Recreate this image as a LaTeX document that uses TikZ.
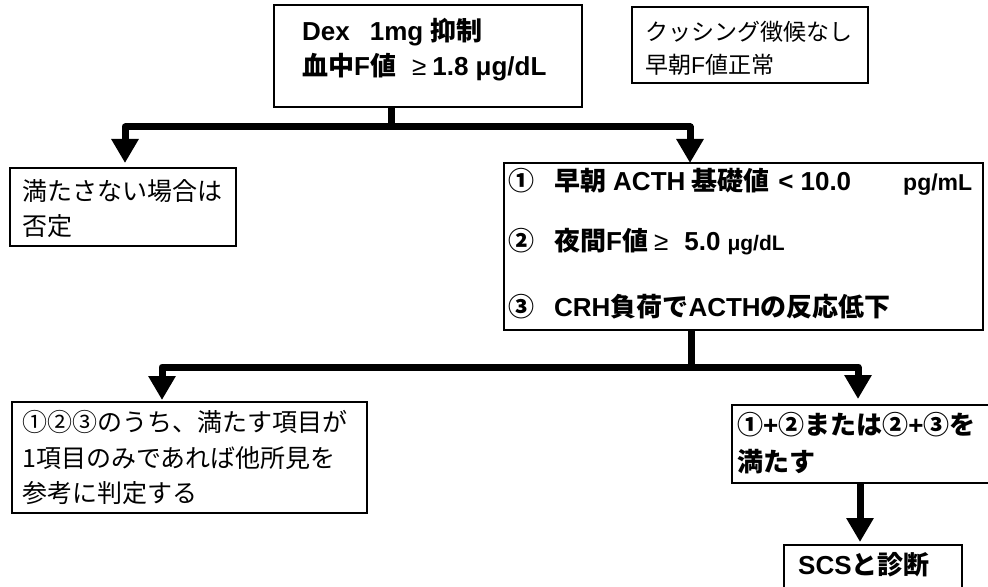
\documentclass[tikz,border=0pt]{standalone}
\usepackage{fontspec}
\setmainfont{Liberation Sans}
\newfontfamily\jp{Noto Sans CJK JP}
\usetikzlibrary{arrows.meta,calc}
\newcommand\J[1]{{\jp #1}}
\newcommand\sm[1]{{\fontsize{23bp}{23bp}\selectfont #1}}
\newcommand\smb[1]{{\fontsize{21bp}{21bp}\selectfont #1}}
\begin{document}
\begin{tikzpicture}[x=1bp,y=-1bp,
  box/.style={draw=black,line width=1.3bp,inner sep=0,outer sep=0,anchor=north west},
  rtxt/.style={anchor=base west,inner sep=0,font=\fontsize{25bp}{30bp}\selectfont},
  ttxt/.style={anchor=base west,inner sep=0,font=\fontsize{23bp}{28bp}\selectfont},
  btxt/.style={anchor=base west,inner sep=0,font=\fontsize{26bp}{30bp}\selectfont\bfseries},
  stem/.style={line width=7bp,line join=round},
  conn/.style={line width=7bp,line join=round,-{Triangle[width=26bp,length=24bp]}}]
\useasboundingbox (0,0) rectangle (988,587);
\clip (0,0) rectangle (988,587);
% boxes
\node[box,minimum width=308bp,minimum height=102bp] (top) at (274,5) {};
\node[box,minimum width=236bp,minimum height=76bp] (tr) at (632,7) {};
\node[box,minimum width=226bp,minimum height=78bp] (left) at (10,168) {};
\node[box,minimum width=479bp,minimum height=167bp] (right) at (504,163) {};
\node[box,minimum width=355bp,minimum height=111bp] (bl) at (12,402) {};
\node[box,minimum width=262bp,minimum height=78bp] (br) at (732,405) {};
\node[box,minimum width=178bp,minimum height=60bp] (scs) at (784,545) {};
% texts
\node[btxt] (t1) at (302,41) {Dex\hspace{20bp}1mg\hspace{7bp}\J{抑制}};
\node[btxt] (t2) at (302,76) {\J{血中}F\J{値}\hspace{16bp}{\mdseries ≥}\hspace{6bp}1.8 μg/dL};
\node[ttxt] (tr1) at (645,41) {\J{クッシング徴候なし}};
\node[ttxt] (tr2) at (645,74) {\J{早朝}F\J{値正常}};
\node[rtxt] (l1) at (22,201) {\J{満たさない場合は}};
\node[rtxt] (l2) at (22,236) {\J{否定}};
\node[btxt] (r1) at (508,191) {\J{①}\hspace{20bp}\J{早朝}\hspace{7bp}ACTH\hspace{6bp}\J{基礎値}\hspace{9bp}<\hspace{7bp}10.0\hspace{52bp}\sm{pg/mL}};
\node[btxt] (r2) at (508,251) {\J{②}\hspace{20bp}\J{夜間}F\J{値}\hspace{6bp}{\mdseries ≥}\hspace{16bp}5.0\hspace{7bp}\smb{μg/dL}};
\node[btxt] (r3) at (508,316) {\J{③}\hspace{20bp}CRH\J{負荷で}ACTH\J{の反応低下}};
\node[rtxt] (b1) at (22,431) {\J{①②③のうち、満たす項目が}};
\node[rtxt] (b2) at (22,467) {\J{1項目のみであれば他所見を}};
\node[rtxt] (b3) at (22,502) {\J{参考に判定する}};
\node[btxt] (br1) at (737,434) {\J{①}+\J{②または②}+\J{③を}};
\node[btxt] (br2) at (737,471) {\J{満たす}};
\node[btxt] (s1) at (798,574) {SCS\J{と診断}};
% connectors
\coordinate (j1) at (391.5,127);
\coordinate (c1l) at (125,127);
\coordinate (c1r) at (690,127);
\draw[stem] (top.south -| j1) -- (j1);
\draw[conn,shorten >=5bp] (j1) -- (c1l) -- (c1l |- left.north);
\draw[conn] (j1) -- (c1r) -- (c1r |- right.north);
\coordinate (j2) at (691,367);
\coordinate (c2l) at (162,367);
\coordinate (c2r) at (858,367);
\draw[stem] (right.south -| j2) -- (j2);
\draw[conn,shorten >=2bp] (j2) -- (c2l) -- (c2l |- bl.north);
\draw[conn,shorten >=6bp] (j2) -- (c2r) -- (c2r |- br.north);
\coordinate (c3) at (860,483);
\draw[conn,shorten >=3bp] (br.south -| c3) -- (c3 |- scs.north);
\end{tikzpicture}
\end{document}
